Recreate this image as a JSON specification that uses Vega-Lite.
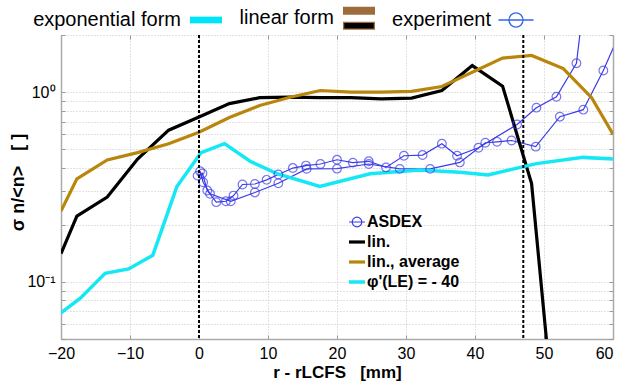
{
  "$schema": "https://vega.github.io/schema/vega-lite/v6.json",
  "width": 552,
  "height": 304,
  "autosize": {"type": "none"},
  "padding": {"left": 61, "top": 35, "right": 6, "bottom": 48},
  "background": "white",
  "config": {"font": "Liberation Sans", "view": {"stroke": null}},
  "datasets": {
    "curves": [
      {"series": "ASDEX", "branch": "U", "x": -0.2, "y": 0.363},
      {"series": "ASDEX", "branch": "U", "x": 0.5, "y": 0.373},
      {"series": "ASDEX", "branch": "U", "x": 1.2, "y": 0.303},
      {"series": "ASDEX", "branch": "U", "x": 2.5, "y": 0.263},
      {"series": "ASDEX", "branch": "U", "x": 3.9, "y": 0.266},
      {"series": "ASDEX", "branch": "U", "x": 5.0, "y": 0.285},
      {"series": "ASDEX", "branch": "U", "x": 6.3, "y": 0.326},
      {"series": "ASDEX", "branch": "U", "x": 8.1, "y": 0.328},
      {"series": "ASDEX", "branch": "U", "x": 9.8, "y": 0.345},
      {"series": "ASDEX", "branch": "U", "x": 11.5, "y": 0.368},
      {"series": "ASDEX", "branch": "U", "x": 13.6, "y": 0.398},
      {"series": "ASDEX", "branch": "U", "x": 15.5, "y": 0.41},
      {"series": "ASDEX", "branch": "U", "x": 17.6, "y": 0.418},
      {"series": "ASDEX", "branch": "U", "x": 20.0, "y": 0.44},
      {"series": "ASDEX", "branch": "U", "x": 22.3, "y": 0.425},
      {"series": "ASDEX", "branch": "U", "x": 24.6, "y": 0.432},
      {"series": "ASDEX", "branch": "U", "x": 27.1, "y": 0.401},
      {"series": "ASDEX", "branch": "U", "x": 29.7, "y": 0.462},
      {"series": "ASDEX", "branch": "U", "x": 32.4, "y": 0.466},
      {"series": "ASDEX", "branch": "U", "x": 35.2, "y": 0.535},
      {"series": "ASDEX", "branch": "U", "x": 37.4, "y": 0.462},
      {"series": "ASDEX", "branch": "U", "x": 40.5, "y": 0.509},
      {"series": "ASDEX", "branch": "U", "x": 46.1, "y": 0.675},
      {"series": "ASDEX", "branch": "U", "x": 48.9, "y": 0.828},
      {"series": "ASDEX", "branch": "U", "x": 51.8, "y": 0.945},
      {"series": "ASDEX", "branch": "U", "x": 54.7, "y": 1.42},
      {"series": "ASDEX", "branch": "U", "x": 56.0, "y": 3.5},
      {"series": "ASDEX", "branch": "L", "x": 0.15, "y": 0.383},
      {"series": "ASDEX", "branch": "L", "x": 0.6, "y": 0.335},
      {"series": "ASDEX", "branch": "L", "x": 1.6, "y": 0.291},
      {"series": "ASDEX", "branch": "L", "x": 4.6, "y": 0.266},
      {"series": "ASDEX", "branch": "L", "x": 8.1, "y": 0.296},
      {"series": "ASDEX", "branch": "L", "x": 11.5, "y": 0.331},
      {"series": "ASDEX", "branch": "L", "x": 15.6, "y": 0.394},
      {"series": "ASDEX", "branch": "L", "x": 20.0, "y": 0.395},
      {"series": "ASDEX", "branch": "L", "x": 24.6, "y": 0.418},
      {"series": "ASDEX", "branch": "L", "x": 29.1, "y": 0.394},
      {"series": "ASDEX", "branch": "L", "x": 33.5, "y": 0.394},
      {"series": "ASDEX", "branch": "L", "x": 37.8, "y": 0.426},
      {"series": "ASDEX", "branch": "L", "x": 41.5, "y": 0.541},
      {"series": "ASDEX", "branch": "L", "x": 43.2, "y": 0.547},
      {"series": "ASDEX", "branch": "L", "x": 45.3, "y": 0.556},
      {"series": "ASDEX", "branch": "L", "x": 48.8, "y": 0.516},
      {"series": "ASDEX", "branch": "L", "x": 52.3, "y": 0.742},
      {"series": "ASDEX", "branch": "L", "x": 55.7, "y": 0.808},
      {"series": "ASDEX", "branch": "L", "x": 58.6, "y": 1.3},
      {"series": "ASDEX", "branch": "L", "x": 61.0, "y": 2.05},
      {"series": "lin.", "branch": "a", "x": -20, "y": 0.141},
      {"series": "lin.", "branch": "a", "x": -17.7, "y": 0.222},
      {"series": "lin.", "branch": "a", "x": -13.3, "y": 0.28},
      {"series": "lin.", "branch": "a", "x": -8.9, "y": 0.444},
      {"series": "lin.", "branch": "a", "x": -4.4, "y": 0.63},
      {"series": "lin.", "branch": "a", "x": 0, "y": 0.74},
      {"series": "lin.", "branch": "a", "x": 4.4, "y": 0.87},
      {"series": "lin.", "branch": "a", "x": 8.8, "y": 0.935},
      {"series": "lin.", "branch": "a", "x": 13.2, "y": 0.94},
      {"series": "lin.", "branch": "a", "x": 17.6, "y": 0.935},
      {"series": "lin.", "branch": "a", "x": 22.0, "y": 0.935},
      {"series": "lin.", "branch": "a", "x": 26.4, "y": 0.922},
      {"series": "lin.", "branch": "a", "x": 30.8, "y": 0.93},
      {"series": "lin.", "branch": "a", "x": 35.2, "y": 1.02},
      {"series": "lin.", "branch": "a", "x": 39.6, "y": 1.38},
      {"series": "lin.", "branch": "a", "x": 44.0, "y": 1.075},
      {"series": "lin.", "branch": "a", "x": 48.2, "y": 0.33},
      {"series": "lin.", "branch": "a", "x": 50.6, "y": 0.04},
      {"series": "lin., average", "branch": "a", "x": -20, "y": 0.236},
      {"series": "lin., average", "branch": "a", "x": -17.7, "y": 0.349},
      {"series": "lin., average", "branch": "a", "x": -13.3, "y": 0.439},
      {"series": "lin., average", "branch": "a", "x": -8.9, "y": 0.48},
      {"series": "lin., average", "branch": "a", "x": -4.4, "y": 0.535},
      {"series": "lin., average", "branch": "a", "x": 0, "y": 0.615},
      {"series": "lin., average", "branch": "a", "x": 4.4, "y": 0.735},
      {"series": "lin., average", "branch": "a", "x": 8.8, "y": 0.85},
      {"series": "lin., average", "branch": "a", "x": 13.2, "y": 0.94},
      {"series": "lin., average", "branch": "a", "x": 17.6, "y": 1.02},
      {"series": "lin., average", "branch": "a", "x": 22.0, "y": 1.0},
      {"series": "lin., average", "branch": "a", "x": 26.4, "y": 1.0},
      {"series": "lin., average", "branch": "a", "x": 30.8, "y": 1.01},
      {"series": "lin., average", "branch": "a", "x": 35.2, "y": 1.07},
      {"series": "lin., average", "branch": "a", "x": 44.0, "y": 1.51},
      {"series": "lin., average", "branch": "a", "x": 48.2, "y": 1.56},
      {"series": "lin., average", "branch": "a", "x": 52.8, "y": 1.33},
      {"series": "lin., average", "branch": "a", "x": 56.9, "y": 0.934},
      {"series": "lin., average", "branch": "a", "x": 60, "y": 0.6},
      {"series": "φ'(LE) = - 40", "branch": "a", "x": -20, "y": 0.0686},
      {"series": "φ'(LE) = - 40", "branch": "a", "x": -17.2, "y": 0.082},
      {"series": "φ'(LE) = - 40", "branch": "a", "x": -13.6, "y": 0.111},
      {"series": "φ'(LE) = - 40", "branch": "a", "x": -10.2, "y": 0.117},
      {"series": "φ'(LE) = - 40", "branch": "a", "x": -6.7, "y": 0.138},
      {"series": "φ'(LE) = - 40", "branch": "a", "x": -3.2, "y": 0.318},
      {"series": "φ'(LE) = - 40", "branch": "a", "x": 0.3, "y": 0.48},
      {"series": "φ'(LE) = - 40", "branch": "a", "x": 3.7, "y": 0.535},
      {"series": "φ'(LE) = - 40", "branch": "a", "x": 7.4, "y": 0.432},
      {"series": "φ'(LE) = - 40", "branch": "a", "x": 11.3, "y": 0.372},
      {"series": "φ'(LE) = - 40", "branch": "a", "x": 17.5, "y": 0.318},
      {"series": "φ'(LE) = - 40", "branch": "a", "x": 24.8, "y": 0.371},
      {"series": "φ'(LE) = - 40", "branch": "a", "x": 32.0, "y": 0.389},
      {"series": "φ'(LE) = - 40", "branch": "a", "x": 37.8, "y": 0.378},
      {"series": "φ'(LE) = - 40", "branch": "a", "x": 41.9, "y": 0.366},
      {"series": "φ'(LE) = - 40", "branch": "a", "x": 48.9, "y": 0.42},
      {"series": "φ'(LE) = - 40", "branch": "a", "x": 55.7, "y": 0.453},
      {"series": "φ'(LE) = - 40", "branch": "a", "x": 60, "y": 0.444}
    ],
    "markers": [{"x": 0}, {"x": 47}],
    "names": [{"series": "ASDEX"}, {"series": "lin."}, {"series": "lin., average"}, {"series": "φ'(LE) = - 40"}],
    "forms": [{"form": "exponential form"}, {"form": "linear form"}, {"form": "experiment"}]
  },
  "layer": [
    {
      "layer": [
        {
          "data": {"name": "curves"},
          "mark": {"type": "line", "clip": true},
          "encoding": {
            "x": {
              "field": "x", "type": "quantitative",
              "scale": {"domain": [-20, 60], "nice": false, "zero": false},
              "axis": {
                "orient": "bottom", "values": [-20, -10, 0, 10, 20, 30, 40, 50, 60],
                "grid": true, "gridColor": "#c4c4c4", "gridDash": [1, 2], "gridWidth": 1,
                "domain": true, "domainColor": "#aaaaaa", "domainWidth": 1.5,
                "ticks": true, "tickSize": -4, "tickColor": "#999999",
                "labelPadding": 10, "labelFontSize": 16, "labelColor": "#000000", "labelFlush": false,
                "labelAlign": {"condition": {"test": "datum.value == 60", "value": "right"}, "value": "center"},
                "labelDx": {"condition": {"test": "datum.value == 60", "value": 6}, "value": 0},
                "title": "r - rLCFS\u00a0\u00a0\u00a0[mm]", "titleFontSize": 17, "titleFontWeight": "bold", "titleColor": "#000000",
                "titleX": 276, "titleY": 33, "titleAlign": "center", "titleBaseline": "middle"
              }
            },
            "y": {
              "field": "y", "type": "quantitative",
              "scale": {"type": "log", "domain": [0.05, 2], "nice": false},
              "axis": {
                "orient": "left",
                "values": [0.05, 0.06, 0.07, 0.08, 0.09, 0.1, 0.2, 0.3, 0.4, 0.5, 0.6, 0.7, 0.8, 0.9, 1, 2],
                "labelExpr": "datum.value == 1 ? '10⁰' : (datum.value == 0.1 ? '10⁻¹' : '')",
                "labelOverlap": false,
                "grid": true, "gridColor": "#c4c4c4", "gridDash": [1, 2], "gridWidth": 1,
                "domain": true, "domainColor": "#aaaaaa", "domainWidth": 1.5,
                "ticks": true, "tickSize": -4, "tickColor": "#999999",
                "labelPadding": 10, "labelFontSize": 16, "labelColor": "#000000",
                "title": "σ n/<n>\u00a0\u00a0\u00a0[ ]", "titleFontSize": 18, "titleFontWeight": "bold", "titleColor": "#000000",
                "titleX": -43, "titleY": 147, "titleAngle": -90, "titleAlign": "center", "titleBaseline": "middle"
              }
            },
            "color": {
              "field": "series", "type": "nominal",
              "scale": {"domain": ["ASDEX", "lin.", "lin., average", "φ'(LE) = - 40"], "range": ["#3b3be8", "#000000", "#b8860b", "#14e8f4"]},
              "legend": {
                "orient": "none", "legendX": 286, "legendY": 178, "title": null,
                "symbolSize": 256, "symbolOpacity": 1, "symbolFillColor": "transparent",
                "labelFont": "Liberation Sans", "labelFontSize": 16, "labelFontWeight": "bold", "labelColor": "#000000",
                "rowPadding": 2, "labelOffset": 0
              }
            },
            "strokeWidth": {
              "field": "series", "type": "nominal",
              "scale": {"type": "ordinal", "domain": ["ASDEX", "lin.", "lin., average", "φ'(LE) = - 40"], "range": [1.2, 3.2, 3.2, 3.5]},
              "legend": {
                "orient": "none", "legendX": 286, "legendY": 178, "title": null,
                "symbolSize": 256, "symbolOpacity": 1, "symbolFillColor": "transparent",
                "labelFont": "Liberation Sans", "labelFontSize": 16, "labelFontWeight": "bold", "labelColor": "#000000",
                "rowPadding": 2, "labelOffset": 0
              }
            },
            "detail": {"field": "branch"}
          }
        },
        {
          "data": {"name": "curves"},
          "transform": [{"filter": "datum.series === 'ASDEX'"}],
          "mark": {"type": "point", "clip": true, "filled": false, "size": 75, "strokeWidth": 1.2, "color": "#3b3be8", "shape": "circle"},
          "encoding": {
            "x": {
              "field": "x", "type": "quantitative",
              "axis": {"orient": "top", "values": [-20, -10, 0, 10, 20, 30, 40, 50, 60], "labels": false, "grid": false, "domain": false, "ticks": true, "tickSize": -4, "tickColor": "#999999", "title": null}
            },
            "y": {
              "field": "y", "type": "quantitative",
              "axis": {"orient": "right", "values": [0.05, 0.06, 0.07, 0.08, 0.09, 0.1, 0.2, 0.3, 0.4, 0.5, 0.6, 0.7, 0.8, 0.9, 1, 2], "labels": false, "grid": false, "domain": true, "domainColor": "#aaaaaa", "domainWidth": 1.5, "ticks": true, "tickSize": -4, "tickColor": "#999999", "title": null}
            }
          }
        },
        {
          "data": {"name": "markers"},
          "mark": {"type": "rule", "strokeDash": [3, 2], "strokeWidth": 2, "color": "#000000"},
          "encoding": {"x": {"field": "x", "type": "quantitative", "axis": null}}
        },
        {
          "data": {"name": "names"},
          "mark": {"type": "point", "opacity": 0},
          "encoding": {
            "shape": {
              "field": "series", "type": "nominal",
              "scale": {"domain": ["ASDEX", "lin.", "lin., average", "φ'(LE) = - 40"], "range": ["M-1,0H1M-0.6,0A0.6,0.6 0 1,1 0.6,0A0.6,0.6 0 1,1 -0.6,0", "stroke", "stroke", "stroke"]},
              "legend": {
                "orient": "none", "legendX": 286, "legendY": 178, "title": null,
                "symbolSize": 256, "symbolOpacity": 1, "symbolFillColor": "transparent",
                "labelFont": "Liberation Sans", "labelFontSize": 16, "labelFontWeight": "bold", "labelColor": "#000000",
                "rowPadding": 2, "labelOffset": 0
              }
            }
          }
        }
      ],
      "resolve": {"axis": {"x": "independent", "y": "independent"}}
    },
    {
      "data": {"name": "forms"},
      "mark": {"type": "point", "opacity": 0, "filled": true, "strokeWidth": 1.3},
      "encoding": {
        "fill": {
          "field": "form", "type": "nominal",
          "scale": {"domain": ["exponential form", "linear form", "experiment"], "range": ["#00e4f8", "#000000", "transparent"]},
          "legend": {
            "orient": "none", "legendX": 128, "legendY": -34, "direction": "horizontal", "title": null,
            "symbolSize": 1024, "symbolOpacity": 1, "symbolStrokeWidth": 1.3,
            "labelFont": "Liberation Sans", "labelFontSize": 20, "labelColor": "#000000",
            "labelAlign": "right", "labelOffset": -42, "columnPadding": 14
          }
        },
        "stroke": {
          "field": "form", "type": "nominal",
          "scale": {"domain": ["exponential form", "linear form", "experiment"], "range": ["transparent", "#9e6c3c", "#3366ee"]},
          "legend": {
            "orient": "none", "legendX": 128, "legendY": -34, "direction": "horizontal", "title": null,
            "symbolSize": 1024, "symbolOpacity": 1, "symbolStrokeWidth": 1.3,
            "labelFont": "Liberation Sans", "labelFontSize": 20, "labelColor": "#000000",
            "labelAlign": "right", "labelOffset": -42, "columnPadding": 14
          }
        },
        "shape": {
          "field": "form", "type": "nominal",
          "scale": {"domain": ["exponential form", "linear form", "experiment"], "range": [
            "M-1,-0.21H1V0.21H-1Z",
            "M-1,-0.68H1M-1,-0.62H1M-1,-0.56H1M-1,-0.5H1M-1,-0.44H1M-1,-0.38H1M-1,-0.32H1M-1,-0.26H1M-0.96,0.25H0.96V0.67H-0.96Z",
            "M-1.1,0H1.1M-0.44,0A0.44,0.44 0 1,1 0.44,0A0.44,0.44 0 1,1 -0.44,0"
          ]},
          "legend": {
            "orient": "none", "legendX": 128, "legendY": -34, "direction": "horizontal", "title": null,
            "symbolSize": 1024, "symbolOpacity": 1, "symbolStrokeWidth": 1.3,
            "labelFont": "Liberation Sans", "labelFontSize": 20, "labelColor": "#000000",
            "labelAlign": "right", "labelOffset": -42, "columnPadding": 14
          }
        }
      }
    }
  ],
  "resolve": {
    "scale": {"color": "independent", "strokeWidth": "independent", "shape": "independent", "fill": "independent", "stroke": "independent"},
    "axis": {"x": "independent", "y": "independent"}
  }
}
